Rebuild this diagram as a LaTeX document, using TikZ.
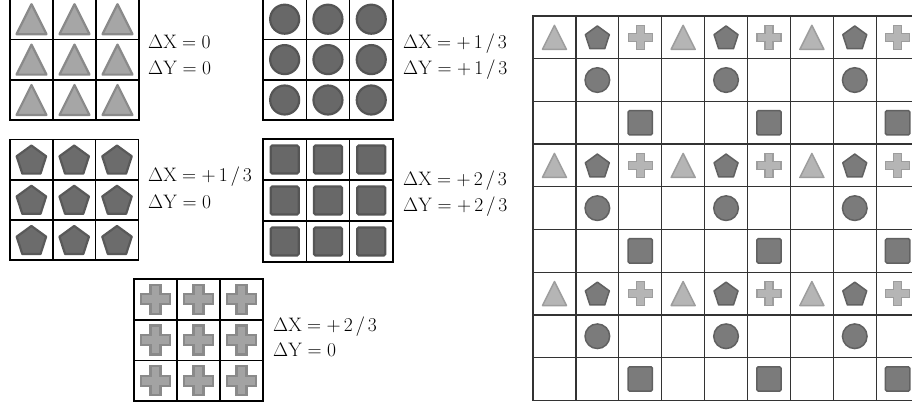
\RequirePackage{fix-cm}
\documentclass[tikz,border=0pt]{standalone}
\definecolor{stf}{HTML}{A6A6A6}\definecolor{std}{HTML}{8A8A8A}
\definecolor{scf}{HTML}{686868}\definecolor{scd}{HTML}{555555}
\definecolor{spf}{HTML}{6C6C6C}\definecolor{spd}{HTML}{595959}
\definecolor{sxf}{HTML}{A3A3A3}\definecolor{sxd}{HTML}{8A8A8A}
\definecolor{btf}{HTML}{B5B5B5}\definecolor{btd}{HTML}{9D9D9D}
\definecolor{bdf}{HTML}{7B7B7B}\definecolor{bdd}{HTML}{616161}
\tikzset{
  sgl/.style={draw=black,line width=1.6pt,line cap=rect},
  bgl/.style={draw=black!80,line width=1.3pt,line cap=rect},
  stri/.style={fill=stf,draw=std,line width=2.2pt,line join=round},
  scirc/.style={fill=scf,draw=scd,line width=2.2pt},
  spent/.style={fill=spf,draw=spd,line width=2.2pt,line join=round},
  ssq/.style={fill=scf,draw=scd,line width=2.2pt},
  scross/.style={fill=sxf,draw=sxd,line width=2.2pt},
  btri/.style={fill=btf,draw=btd,line width=1.5pt,line join=round},
  bpent/.style={fill=bdf,draw=bdd,line width=1.5pt,line join=round},
  bcross/.style={fill=btf,draw=btd,line width=1.5pt},
  bcirc/.style={fill=bdf,draw=bdd,line width=1.5pt},
  bsq/.style={fill=bdf,draw=bdd,line width=1.5pt},
  lbl/.style={anchor=base west,inner sep=0pt,font=\fontsize{19.5}{24}\selectfont},
}
\newcommand{\pthird}[1]{+\mkern3mu#1\mkern2.5mu/\mkern2.5mu3}
\newcommand{\STri}[4]{\filldraw[#4,shift={(#1,#2)}] (0,-#3) -- (#3,#3) -- (-#3,#3) -- cycle;}
\newcommand{\SPent}[4]{\pgfmathsetmacro\pcy{#2+0.095*#3}\filldraw[#4,shift={(#1,\pcy)}] (-90:#3) -- (-18:#3) -- (54:#3) -- (126:#3) -- (198:#3) -- cycle;}
\newcommand{\SCross}[5]{\filldraw[#5,shift={(#1,#2)}] (-#4,-#3) -- (#4,-#3) -- (#4,-#4) -- (#3,-#4) -- (#3,#4) -- (#4,#4) -- (#4,#3) -- (-#4,#3) -- (-#4,#4) -- (-#3,#4) -- (-#3,-#4) -- (-#4,-#4) -- cycle;}
\newcommand{\SCirc}[4]{\filldraw[#4] (#1,#2) circle[radius=#3];}
\newcommand{\SSq}[4]{\filldraw[#4,rounded corners=1.5pt] ({#1-#3},{#2-#3}) rectangle ({#1+#3},{#2+#3});}
\newcommand{\sTri}[2]{\STri{#1}{#2}{15}{stri}}
\newcommand{\sCirc}[2]{\SCirc{#1}{#2}{14.5}{scirc}}
\newcommand{\sPent}[2]{\SPent{#1}{#2}{15.5}{spent}}
\newcommand{\sSq}[2]{\SSq{#1}{#2}{14}{ssq}}
\newcommand{\sCross}[2]{\SCross{#1}{#2}{14.5}{5}{scross}}
\newcommand{\SmallGrid}[5]{%
  \foreach \i in {0,1,2}{\foreach \j in {0,1,2}{%
    \pgfmathsetmacro\cx{#1+(\i+0.5)*#3}\pgfmathsetmacro\cy{#2+(\j+0.5)*#4}%
    #5{\cx}{\cy}}}%
  \foreach \i in {0,...,3}{%
    \draw[sgl] ({#1+\i*#3},#2) -- ({#1+\i*#3},{#2+3*#4});
    \draw[sgl] (#1,{#2+\i*#4}) -- ({#1+3*#3},{#2+\i*#4});}%
}
\begin{document}
\begin{tikzpicture}[x=1pt,y=-1pt]
\useasboundingbox (0,0) rectangle (912,407);
\clip (0,0) rectangle (912,407);
\fill[white] (0,0) rectangle (912,407);
% small grids
\SmallGrid{10}{-1}{43}{40.4}{\sTri}
\SmallGrid{263}{-1}{43.3}{40.4}{\sCirc}
\SmallGrid{10}{139.5}{42.8}{40.2}{\sPent}
\SmallGrid{263}{139}{43.3}{41}{\sSq}
\SmallGrid{134}{279}{43}{40.7}{\sCross}
% labels
\node[lbl] (dx1) at (148,48.5) {$\mathrm{\Delta X}=0$};
\node[lbl] (dy1) at (148,74.5) {$\mathrm{\Delta Y}=0$};
\node[lbl] (dx2) at (403,48.5) {$\mathrm{\Delta X}=\pthird{1}$};
\node[lbl] (dy2) at (403,74.5) {$\mathrm{\Delta Y}=\pthird{1}$};
\node[lbl] (dx3) at (148,181.5) {$\mathrm{\Delta X}=\pthird{1}$};
\node[lbl] (dy3) at (148,208) {$\mathrm{\Delta Y}=0$};
\node[lbl] (dx4) at (403,185.5) {$\mathrm{\Delta X}=\pthird{2}$};
\node[lbl] (dy4) at (403,211.5) {$\mathrm{\Delta Y}=\pthird{2}$};
\node[lbl] (dx5) at (273,331.5) {$\mathrm{\Delta X}=\pthird{2}$};
\node[lbl] (dy5) at (273,356.5) {$\mathrm{\Delta Y}=0$};
% big grid shapes
\foreach \r in {0,3,6}{\foreach \c in {0,3,6}{%
  \pgfmathsetmacro\xa{533+(\c+0.5)*42.9}\pgfmathsetmacro\xb{533+(\c+1.5)*42.9}\pgfmathsetmacro\xc{533+(\c+2.5)*42.9}%
  \pgfmathsetmacro\ya{16+(\r+0.5)*42.7}\pgfmathsetmacro\yb{16+(\r+1.5)*42.7}\pgfmathsetmacro\yc{16+(\r+2.5)*42.7}%
  \STri{\xa}{\ya}{12}{btri}
  \SPent{\xb}{\ya}{12.6}{bpent}
  \SCross{\xc}{\ya}{12}{4}{bcross}
  \SCirc{\xb}{\yb}{12.3}{bcirc}
  \SSq{\xc}{\yc}{12.2}{bsq}
}}
% big grid lines
\foreach \i in {0,...,9}{%
  \draw[bgl] ({533+\i*42.9},16) -- ({533+\i*42.9},400.3);
  \draw[bgl] (533,{16+\i*42.7}) -- (919.1,{16+\i*42.7});}
\end{tikzpicture}
\end{document}
